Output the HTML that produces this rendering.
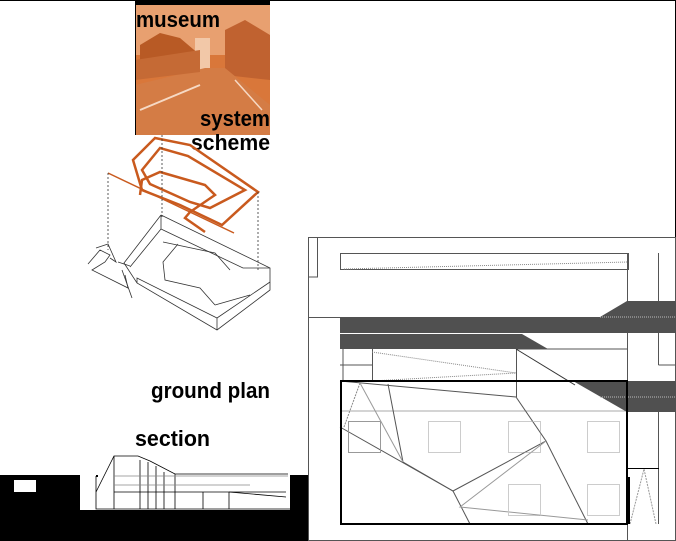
<!DOCTYPE html>
<html><head><style>
html,body{margin:0;padding:0;background:#fff}
svg{display:block}
text{font-family:"Liberation Sans Narrow","Liberation Sans",sans-serif;font-weight:bold;}
</style></head><body>
<svg width="676" height="541" viewBox="0 0 676 541" xmlns="http://www.w3.org/2000/svg">
<rect x="0" y="0" width="676" height="541" fill="#fff"/>
<line x1="0" y1="0.5" x2="676" y2="0.5" stroke="#000"/>
<line x1="675.5" y1="0" x2="675.5" y2="541" stroke="#000"/>
<!-- photo -->
<rect x="135" y="0" width="135" height="135" fill="#d9773a"/>
<rect x="135" y="0" width="135" height="5" fill="#000"/>
<rect x="135" y="5" width="135" height="50" fill="#e8a070"/>
<polygon points="140,45 160,33 180,38 200,55 200,72 140,75" fill="#b85a25"/>
<polygon points="225,30 245,20 270,35 270,80 225,75" fill="#c06230"/>
<polygon points="195,38 210,38 210,70 195,70" fill="#f2c8a8"/>
<polygon points="135,85 205,68 225,68 270,105 270,135 135,135" fill="#d47c45"/>
<polygon points="135,60 200,50 200,72 135,80" fill="#c56a35"/>
<line x1="140" y1="110" x2="200" y2="85" stroke="#f6d9c4" stroke-width="2"/>
<line x1="235" y1="80" x2="262" y2="110" stroke="#f6d9c4" stroke-width="1.5"/>
<line x1="135.5" y1="0" x2="135.5" y2="135" stroke="#000"/>
<text x="136" y="27" font-size="22" fill="#000" textLength="84" lengthAdjust="spacingAndGlyphs">museum</text>
<text x="200" y="126" font-size="22" fill="#000" textLength="70" lengthAdjust="spacingAndGlyphs">system</text>
<text x="191" y="150" font-size="22" fill="#000" textLength="79" lengthAdjust="spacingAndGlyphs">scheme</text>
<!-- orange scheme -->
<g fill="none" stroke="#c95a1e" stroke-width="2.5">
<polygon points="155,138 133,160 142,190 180,205 222,225 258,192 190,145"/>
<polygon points="160,148 142,170 150,184 190,202 210,208 245,190 188,156"/>
<polyline points="140,195 142,180 160,172 205,185 215,195 190,212 185,218 205,232"/>
<line x1="108" y1="173" x2="234" y2="233" stroke-width="1.5"/>
</g>
<!-- wireframe -->
<g fill="none" stroke="#333" stroke-width="0.8">
<line x1="162" y1="135" x2="162" y2="218" stroke-dasharray="2,2"/>
<line x1="108" y1="173" x2="108" y2="250" stroke-dasharray="2,2"/>
<line x1="258" y1="192" x2="258" y2="272" stroke-dasharray="2,2"/>
<polyline points="161,215 270,268 270,290 217,330 137,283 124,263 161,215"/>
<polyline points="137,283 137,278 217,318 270,282"/>
<polyline points="217,318 217,330"/>
<polyline points="161,215 161,229 130,267"/>
<polyline points="161,229 243,268 270,268"/>
<polyline points="178,244 163,262 165,280 200,288 215,305"/>
<polyline points="163,242 215,253 230,270"/>
<line x1="215" y1="305" x2="250" y2="295"/>
<polyline points="88,264 100,250 110,255 105,262 92,270 128,288 125,275"/>
<polyline points="96,248 108,244 116,262 110,258"/>
<line x1="118" y1="262" x2="130" y2="266"/>
<polyline points="122,270 132,298"/>
</g>
<text x="151" y="398" font-size="22" fill="#000" textLength="119" lengthAdjust="spacingAndGlyphs">ground plan</text>
<text x="135" y="446" font-size="22" fill="#000" textLength="75" lengthAdjust="spacingAndGlyphs">section</text>
<!-- section black -->
<rect x="0" y="475" width="308" height="66" fill="#000"/>
<polygon points="80,475 96,475 96,477 98,477 98,470 106,456 114,455 135,456 148,461 165,473 175,474 290,474 290,510 80,510" fill="#fff"/>
<rect x="14" y="480" width="22" height="12" fill="#fff"/>
<g fill="none" stroke="#000" stroke-width="0.8">
<polyline points="96,476 96,509 290,509"/>
<polyline points="96,492 114,456 138,456 150,461 175,474 288,474"/>
<line x1="114" y1="456" x2="114" y2="509"/>
<line x1="140" y1="460" x2="140" y2="509"/>
<line x1="148" y1="462" x2="148" y2="509"/>
<line x1="156" y1="466" x2="156" y2="509"/>
<line x1="164" y1="472" x2="164" y2="509"/>
<line x1="175" y1="474" x2="175" y2="509"/>
<line x1="114" y1="492" x2="286" y2="492"/>
<line x1="203" y1="492" x2="203" y2="509"/>
<line x1="229" y1="492" x2="229" y2="509"/>
<line x1="229" y1="492" x2="286" y2="497"/>
<line x1="114" y1="476" x2="288" y2="476" stroke="#888"/>
<line x1="114" y1="485" x2="250" y2="485" stroke="#888"/>
</g>
<!-- plan -->
<g fill="none" stroke="#555" stroke-width="1">
<rect x="308.5" y="237.5" width="367" height="303"/>
<line x1="308" y1="317.5" x2="676" y2="317.5"/>
<rect x="340.5" y="253.5" width="288" height="16"/>
<polyline points="308.5,237.5 317.5,237.5 317.5,277 308.5,277"/>
<line x1="627.5" y1="253" x2="627.5" y2="541"/>
<line x1="658.5" y1="253" x2="658.5" y2="365"/>
<line x1="658.5" y1="365" x2="676" y2="365"/>
<line x1="658.5" y1="412" x2="658.5" y2="524"/>
<line x1="344" y1="269" x2="628" y2="262" stroke-dasharray="1,1" stroke="#888"/>
<line x1="343" y1="349" x2="343" y2="381"/>
<line x1="372.5" y1="349" x2="372.5" y2="381"/>
<line x1="516.5" y1="349" x2="516.5" y2="397"/>
<line x1="340" y1="365" x2="372" y2="365"/>
<line x1="340" y1="411" x2="627" y2="411" stroke="#aaa"/>
<line x1="516" y1="349" x2="627" y2="349"/>
<line x1="516" y1="381" x2="627" y2="381"/>
<line x1="372" y1="352" x2="516" y2="373" stroke-dasharray="1,1" stroke="#888"/>
<line x1="372" y1="381" x2="516" y2="373" stroke-dasharray="1,1" stroke="#888"/>
<polyline points="340,381 516,397 546,441 453,491 340,427"/>
<polyline points="388,384 403,462 453,491"/>
<line x1="546" y1="441" x2="588" y2="524"/>
<line x1="453" y1="491" x2="470" y2="524"/>
<polyline points="360,383 344,427" stroke="#888" stroke-dasharray="2,1"/>
<polyline points="360,383 403,462" stroke="#999"/>
<polyline points="546,441 460,507 588,520" stroke="#999"/>
<line x1="516" y1="349" x2="575" y2="385" stroke="#333"/>
</g>
<g fill="none" stroke="#999" stroke-width="1">
<rect x="348.5" y="421.5" width="32" height="31"/>
<rect x="428.5" y="421.5" width="32" height="31" stroke-dasharray="1,1"/>
<rect x="508.5" y="421.5" width="32" height="31" stroke-dasharray="1,1"/>
<rect x="587.5" y="421.5" width="32" height="31" stroke-dasharray="1,1"/>
<rect x="508.5" y="484.5" width="32" height="31" stroke-dasharray="1,1"/>
<rect x="587.5" y="484.5" width="32" height="31" stroke-dasharray="1,1"/>
<polyline points="630,524 644,469 656,524" stroke-dasharray="2,1"/>
</g>
<line x1="628" y1="468.5" x2="659" y2="468.5" stroke="#000"/>
<rect x="627" y="477" width="3" height="47" fill="#000"/>
<polygon points="340,317 600,317 627,301 676,301 676,333 340,333" fill="#505050"/>
<polygon points="340,334 522,334 548,349 340,349" fill="#505050"/>
<polygon points="573,381 676,381 676,412 627,412" fill="#505050"/>
<line x1="600" y1="317" x2="676" y2="317" stroke="#bbb" stroke-dasharray="1,1"/>
<line x1="600" y1="397" x2="676" y2="397" stroke="#bbb" stroke-dasharray="1,1"/>
<rect x="341" y="381" width="286" height="143" fill="none" stroke="#000" stroke-width="2"/>
</svg>
</body></html>
